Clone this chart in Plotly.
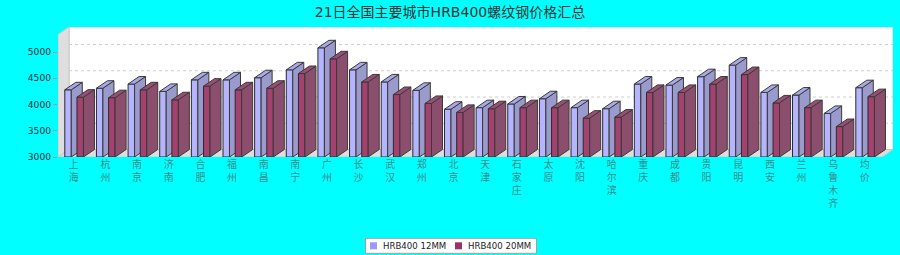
import plotly.graph_objects as go

cities = ["上海", "杭州", "南京", "济南", "合肥", "福州", "南昌", "南宁", "广州", "长沙",
          "武汉", "郑州", "北京", "天津", "石家庄", "太原", "沈阳", "哈尔滨", "重庆", "成都",
          "贵阳", "昆明", "西安", "兰州", "乌鲁木齐", "均价"]
hrb12 = [4280, 4310, 4390, 4250, 4470, 4470, 4510, 4660, 5080, 4660,
         4430, 4270, 3910, 3940, 4010, 4110, 3940, 3920, 4390, 4370,
         4530, 4750, 4230, 4180, 3830, 4320]
hrb20 = [4140, 4130, 4280, 4090, 4350, 4280, 4310, 4590, 4870, 4430,
         4190, 4020, 3850, 3920, 3940, 3940, 3740, 3760, 4230, 4230,
         4390, 4570, 4030, 3940, 3580, 4150]
series_names = ["HRB400 12MM", "HRB400 20MM"]
y_ticks = [3000, 3500, 4000, 4500, 5000]

# ---- geometry (pixels -> data units) ----
W, H = 900, 255
ML, MR, MT, MB = 58, 7, 27, 98
pw = W - ML - MR
ph = H - MT - MB
cat_px = 31.64
ymin = 3000
px_per_val = 0.0525
x_lo = -0.5
x_hi = x_lo + pw / cat_px
y_hi = ymin + ph / px_per_val
dxv = 11 / cat_px          # 3D depth in category units
dyv = 7.5 / px_per_val     # 3D depth in value units
front_right = x_hi - dxv
front_top = y_hi - dyv


def xp(px):
    return (px - ML) / pw


def yp(py):
    return (MT + ph - py) / ph


fig = go.Figure()


def poly(xs, ys, fill, line, width=1):
    fig.add_trace(go.Scatter(x=xs, y=ys, mode="lines", fill="toself", fillcolor=fill,
                             line=dict(color=line, width=width), hoverinfo="skip",
                             showlegend=False, cliponaxis=False))


# back wall
poly([x_lo + dxv, x_hi, x_hi, x_lo + dxv, x_lo + dxv],
     [ymin + dyv, ymin + dyv, y_hi, y_hi, ymin + dyv], "#ffffff", "#c8c8c8")
# left wall
poly([x_lo, x_lo, x_lo + dxv, x_lo + dxv, x_lo],
     [ymin, front_top, y_hi, ymin + dyv, ymin], "#dedede", "#c8c8c8")
# floor
poly([x_lo, front_right, x_hi, x_lo + dxv, x_lo],
     [ymin, ymin, ymin + dyv, ymin + dyv, ymin], "#dedede", "#c8c8c8")

# gridlines on back wall
gx, gy = [], []
for t in y_ticks[1:]:
    gx += [x_lo + dxv, x_hi, None]
    gy += [t + dyv, t + dyv, None]
fig.add_trace(go.Scatter(x=gx, y=gy, mode="lines", line=dict(color="#cfcfcf", width=1, dash="dot"),
                         hoverinfo="skip", showlegend=False))

bw = 0.205
offsets = [-0.285, 0.10]
styles = [
    dict(front="#b4b4ff", side="#9a9acc", top="#a9a9ea", legend="#9999ff"),
    dict(front="#a3416f", side="#8b4f6d", top="#9b4d74", legend="#993366"),
]
edge = "#2a2a2a"

for vals, off, st, name in zip([hrb12, hrb20], offsets, styles, series_names):
    fx, fy, sx, sy, tx, ty = [], [], [], [], [], []
    for i, v in enumerate(vals):
        x0 = i + off
        x1 = x0 + bw
        fx += [x0, x0, x1, x1, x0, None]
        fy += [ymin, v, v, ymin, ymin, None]
        sx += [x1, x1, x1 + dxv, x1 + dxv, x1, None]
        sy += [ymin, v, v + dyv, ymin + dyv, ymin, None]
        tx += [x0, x0 + dxv, x1 + dxv, x1, x0, None]
        ty += [v, v + dyv, v + dyv, v, v, None]
    poly(fx, fy, st["front"], edge)
    poly(sx, sy, st["side"], "#3a3a3a")
    poly(tx, ty, st["top"], "#3a3a3a")

font_fam = "DejaVu Sans, Noto Sans CJK SC, sans-serif"

# ---- legend (drawn box, squares and text) ----
shapes = [dict(type="rect", xref="paper", yref="paper",
               x0=xp(365.5), x1=xp(536.5), y0=yp(253.3), y1=yp(238.3),
               fillcolor="#ffffff", line=dict(color="#a0a0a0", width=1), layer="above")]
annotations = []
leg_sq_x = [370, 455]
for sx0, st, name in zip(leg_sq_x, styles, series_names):
    shapes.append(dict(type="rect", xref="paper", yref="paper",
                       x0=xp(sx0), x1=xp(sx0 + 7), y0=yp(249.3), y1=yp(242.3),
                       fillcolor=st["legend"], line=dict(width=0), layer="above"))
    annotations.append(dict(text=name, xref="paper", yref="paper", x=xp(sx0 + 10.5), y=yp(245.8),
                            xanchor="left", yanchor="middle", showarrow=False,
                            font=dict(size=8.6, color="#222222", family=font_fam)))

fig.update_layout(
    width=W, height=H,
    margin=dict(l=ML, r=MR, t=MT, b=MB, pad=0, autoexpand=False),
    paper_bgcolor="#00ffff", plot_bgcolor="#00ffff",
    font=dict(family=font_fam, size=10, color="#333333"),
    title=dict(text="21日全国主要城市HRB400螺纹钢价格汇总", x=0.5, xanchor="center",
               y=1 - 12 / H, yanchor="middle", yref="container",
               font=dict(size=14, color="#333333", family=font_fam)),
    xaxis=dict(range=[x_lo, x_hi], showgrid=False, zeroline=False, showline=False,
               tickvals=list(range(len(cities))),
               ticktext=["<br>".join(c) for c in cities],
               tickfont=dict(size=10, color="#3a8c8c", family=font_fam),
               ticks="", fixedrange=True, automargin=False),
    yaxis=dict(range=[ymin, y_hi], showgrid=False, zeroline=False, showline=False,
               tickvals=y_ticks, ticktext=[str(t) for t in y_ticks],
               tickfont=dict(size=9.2, color="#1f2d3d", family=font_fam),
               ticks="outside", ticklen=4, tickcolor="#9a9a9a", fixedrange=True,
               automargin=False),
    shapes=shapes,
    annotations=annotations,
    showlegend=False,
)

fig.write_html("out.html")
